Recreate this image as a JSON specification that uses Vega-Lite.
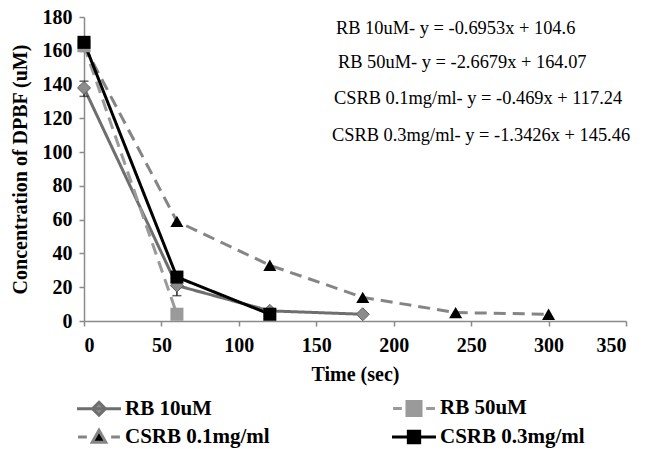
{
  "$schema": "https://vega.github.io/schema/vega-lite/v6.json",
  "width": 542,
  "height": 304,
  "autosize": "none",
  "padding": {"left": 84, "top": 17, "right": 29, "bottom": 128},
  "background": "white",
  "config": {
    "view": {"stroke": null},
    "font": "Liberation Serif",
    "axis": {
      "grid": false,
      "domainColor": "#8a8a8a",
      "domainWidth": 1.5,
      "tickColor": "#8a8a8a",
      "tickWidth": 1.5,
      "tickSize": 5,
      "labelOverlap": false,
      "labelFont": "Liberation Serif",
      "labelFontWeight": "bold",
      "labelFontSize": 20,
      "labelColor": "black",
      "titleFont": "Liberation Serif",
      "titleFontWeight": "bold",
      "titleFontSize": 20,
      "titleColor": "black"
    },
    "legend": {
      "orient": "none",
      "legendX": 0,
      "legendY": 376,
      "columns": 2,
      "direction": "horizontal",
      "labelFont": "Liberation Serif",
      "labelFontWeight": "bold",
      "labelFontSize": 21,
      "labelColor": "black",
      "symbolSize": 729,
      "symbolStrokeWidth": 3,
      "symbolOpacity": 1,
      "columnPadding": 115,
      "rowPadding": 0,
      "labelOffset": 11
    }
  },
  "datasets": {
    "pts": [
      {"series": "RB 10uM", "t": 0, "c": 138},
      {"series": "RB 10uM", "t": 60, "c": 21},
      {"series": "RB 10uM", "t": 120, "c": 6},
      {"series": "RB 10uM", "t": 180, "c": 4},
      {"series": "RB 50uM", "t": 0, "c": 163},
      {"series": "RB 50uM", "t": 60, "c": 4},
      {"series": "CSRB 0.1mg/ml", "t": 0, "c": 163},
      {"series": "CSRB 0.1mg/ml", "t": 60, "c": 59},
      {"series": "CSRB 0.1mg/ml", "t": 120, "c": 33},
      {"series": "CSRB 0.1mg/ml", "t": 180, "c": 14},
      {"series": "CSRB 0.1mg/ml", "t": 240, "c": 5},
      {"series": "CSRB 0.1mg/ml", "t": 300, "c": 4},
      {"series": "CSRB 0.3mg/ml", "t": 0, "c": 165},
      {"series": "CSRB 0.3mg/ml", "t": 60, "c": 26},
      {"series": "CSRB 0.3mg/ml", "t": 120, "c": 4}
    ],
    "err": [
      {"t": 0, "lo": 133, "hi": 142},
      {"t": 60, "lo": 15, "hi": 26}
    ],
    "eq": [
      {"tx": 162.7, "ty": 173.5, "label": "RB 10uM- y = -0.6953x + 104.6"},
      {"tx": 164, "ty": 153.4, "label": "RB 50uM- y = -2.6679x + 164.07"},
      {"tx": 161.4, "ty": 132, "label": "CSRB 0.1mg/ml- y = -0.469x + 117.24"},
      {"tx": 160.1, "ty": 110.1, "label": "CSRB 0.3mg/ml- y = -1.3426x + 145.46"}
    ]
  },
  "layer": [
    {
      "data": {"name": "pts"},
      "mark": {"type": "line", "strokeWidth": 3},
      "encoding": {
        "x": {"field": "t", "type": "quantitative", "title": "Time (sec)",
              "scale": {"domain": [0, 350], "nice": false},
              "axis": {"values": [0, 50, 100, 150, 200, 250, 300, 350], "labelOverlap": false, "labelPadding": 9, "titlePadding": 9}},
        "y": {"field": "c", "type": "quantitative", "title": "Concentration of DPBF (uM)",
              "scale": {"domain": [0, 180], "nice": false},
              "axis": {"values": [0, 20, 40, 60, 80, 100, 120, 140, 160, 180], "labelOverlap": false, "labelPadding": 7, "titlePadding": 12}},
        "color": {"field": "series", "type": "nominal",
                   "scale": {"domain": ["CSRB 0.3mg/ml", "CSRB 0.1mg/ml", "RB 50uM", "RB 10uM"], "range": ["#000000", "#858585", "#9a9a9a", "#6e6e6e"]},
                   "legend": null},
        "strokeDash": {"field": "series", "type": "nominal",
                   "scale": {"domain": ["CSRB 0.3mg/ml", "CSRB 0.1mg/ml", "RB 50uM", "RB 10uM"], "range": [[1, 0], [12, 7], [12, 7], [1, 0]]},
                   "legend": null},
        "order": {"field": "t", "type": "quantitative"}
      }
    },
    {
      "data": {"name": "err"},
      "mark": {"type": "errorbar", "ticks": {"size": 9}, "color": "#222222", "thickness": 1.5},
      "encoding": {
        "x": {"field": "t", "type": "quantitative", "title": "Time (sec)",
              "axis": {"values": [0, 50, 100, 150, 200, 250, 300, 350], "labelOverlap": false, "labelPadding": 9, "titlePadding": 9}},
        "y": {"field": "lo", "type": "quantitative", "title": "Concentration of DPBF (uM)",
              "axis": {"values": [0, 20, 40, 60, 80, 100, 120, 140, 160, 180], "labelOverlap": false, "labelPadding": 7, "titlePadding": 12}},
        "y2": {"field": "hi"}
      }
    },
    {
      "data": {"name": "pts"},
      "transform": [{"filter": "datum.series === 'RB 10uM'"}],
      "mark": {"type": "point", "filled": true, "opacity": 1, "shape": "diamond", "size": 170, "stroke": "#606060", "strokeWidth": 1},
      "encoding": {
        "x": {"field": "t", "type": "quantitative", "title": "Time (sec)",
              "axis": {"values": [0, 50, 100, 150, 200, 250, 300, 350], "labelOverlap": false, "labelPadding": 9, "titlePadding": 9}},
        "y": {"field": "c", "type": "quantitative", "title": "Concentration of DPBF (uM)",
              "axis": {"values": [0, 20, 40, 60, 80, 100, 120, 140, 160, 180], "labelOverlap": false, "labelPadding": 7, "titlePadding": 12}},
        "fill": {"field": "series", "type": "nominal",
                 "scale": {"domain": ["RB 10uM", "RB 50uM", "CSRB 0.1mg/ml", "CSRB 0.3mg/ml"], "range": ["#8c8c8c", "#9a9a9a", "#000000", "#000000"]},
                 "legend": {"title": null}}
      }
    },
    {
      "data": {"name": "pts"},
      "transform": [{"filter": "datum.series === 'CSRB 0.1mg/ml'"}],
      "mark": {"type": "point", "filled": true, "opacity": 1, "shape": "triangle-up", "size": 170},
      "encoding": {
        "x": {"field": "t", "type": "quantitative", "title": "Time (sec)",
              "axis": {"values": [0, 50, 100, 150, 200, 250, 300, 350], "labelOverlap": false, "labelPadding": 9, "titlePadding": 9}},
        "y": {"field": "c", "type": "quantitative", "title": "Concentration of DPBF (uM)",
              "axis": {"values": [0, 20, 40, 60, 80, 100, 120, 140, 160, 180], "labelOverlap": false, "labelPadding": 7, "titlePadding": 12}},
        "fill": {"field": "series", "type": "nominal", "legend": {"title": null}}
      }
    },
    {
      "data": {"name": "pts"},
      "transform": [{"filter": "datum.series === 'RB 50uM' || datum.series === 'CSRB 0.3mg/ml'"}],
      "mark": {"type": "point", "filled": true, "opacity": 1, "shape": "square", "size": 170},
      "encoding": {
        "x": {"field": "t", "type": "quantitative", "title": "Time (sec)",
              "axis": {"values": [0, 50, 100, 150, 200, 250, 300, 350], "labelOverlap": false, "labelPadding": 9, "titlePadding": 9}},
        "y": {"field": "c", "type": "quantitative", "title": "Concentration of DPBF (uM)",
              "axis": {"values": [0, 20, 40, 60, 80, 100, 120, 140, 160, 180], "labelOverlap": false, "labelPadding": 7, "titlePadding": 12}},
        "fill": {"field": "series", "type": "nominal", "legend": {"title": null}}
      }
    },
    {
      "data": {"name": "pts"},
      "transform": [{"filter": "datum.t < 0"}],
      "mark": {"type": "point", "opacity": 1, "strokeWidth": 3},
      "encoding": {
        "x": {"field": "t", "type": "quantitative", "title": "Time (sec)",
              "axis": {"values": [0, 50, 100, 150, 200, 250, 300, 350], "labelOverlap": false, "labelPadding": 9, "titlePadding": 9}},
        "y": {"field": "c", "type": "quantitative", "title": "Concentration of DPBF (uM)",
              "axis": {"values": [0, 20, 40, 60, 80, 100, 120, 140, 160, 180], "labelOverlap": false, "labelPadding": 7, "titlePadding": 12}},
        "fill": {"field": "series", "type": "nominal", "legend": {"title": null}},
        "stroke": {"field": "series", "type": "nominal",
                   "scale": {"domain": ["RB 10uM", "RB 50uM", "CSRB 0.1mg/ml", "CSRB 0.3mg/ml"], "range": ["#6e6e6e", "#9a9a9a", "#858585", "#000000"]},
                   "legend": {"title": null}},
        "shape": {"field": "series", "type": "nominal",
                  "scale": {"domain": ["RB 10uM", "RB 50uM", "CSRB 0.1mg/ml", "CSRB 0.3mg/ml"],
                            "range": ["M-1.63,0H1.63M0,-0.48L0.48,0L0,0.48L-0.48,0Z", "M-1.55,0H-0.9M0.9,0H1.55M-0.52,-0.52H0.52V0.52H-0.52Z", "M-1.55,0H-0.9M0.9,0H1.55M0,-0.5L0.5,0.38H-0.5Z", "M-1.63,0H1.63M-0.42,-0.42H0.42V0.42H-0.42Z"]},
                  "legend": {"title": null}}
      }
    },
    {
      "data": {"name": "eq"},
      "mark": {"type": "text", "align": "left", "baseline": "middle", "font": "Liberation Serif", "fontSize": 18.4, "color": "black"},
      "encoding": {
        "x": {"field": "tx", "type": "quantitative", "title": "Time (sec)",
              "axis": {"values": [0, 50, 100, 150, 200, 250, 300, 350], "labelOverlap": false, "labelPadding": 9, "titlePadding": 9}},
        "y": {"field": "ty", "type": "quantitative", "title": "Concentration of DPBF (uM)",
              "axis": {"values": [0, 20, 40, 60, 80, 100, 120, 140, 160, 180], "labelOverlap": false, "labelPadding": 7, "titlePadding": 12}},
        "text": {"field": "label", "type": "nominal"}
      }
    }
  ]
}
